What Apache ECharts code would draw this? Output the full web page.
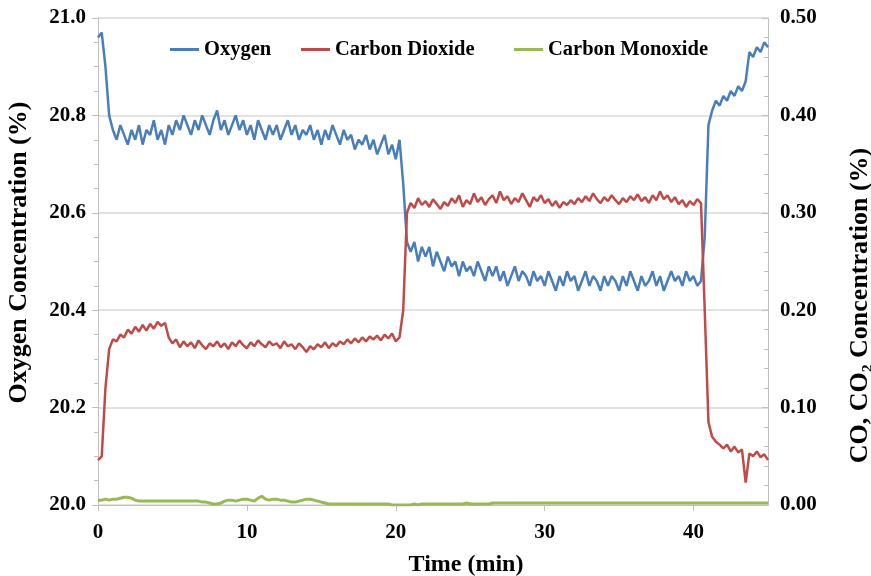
<!DOCTYPE html>
<html>
<head>
<meta charset="utf-8">
<script src="https://cdn.jsdelivr.net/npm/echarts@6/dist/echarts.min.js"></script>
<style>
  html, body { margin: 0; padding: 0; background: #fff; }
  #chart { width: 871px; height: 576px; }
</style>
</head>
<body>
<div id="chart"></div>
<script>
// sample times (min), one reading every 0.25 min
const times = [
  0, 0.25, 0.5, 0.75, 1, 1.25, 1.5, 1.75,
  2, 2.25, 2.5, 2.75, 3, 3.25, 3.5, 3.75,
  4, 4.25, 4.5, 4.75, 5, 5.25, 5.5, 5.75,
  6, 6.25, 6.5, 6.75, 7, 7.25, 7.5, 7.75,
  8, 8.25, 8.5, 8.75, 9, 9.25, 9.5, 9.75,
  10, 10.25, 10.5, 10.75, 11, 11.25, 11.5, 11.75,
  12, 12.25, 12.5, 12.75, 13, 13.25, 13.5, 13.75,
  14, 14.25, 14.5, 14.75, 15, 15.25, 15.5, 15.75,
  16, 16.25, 16.5, 16.75, 17, 17.25, 17.5, 17.75,
  18, 18.25, 18.5, 18.75, 19, 19.25, 19.5, 19.75,
  20, 20.25, 20.5, 20.75, 21, 21.25, 21.5, 21.75,
  22, 22.25, 22.5, 22.75, 23, 23.25, 23.5, 23.75,
  24, 24.25, 24.5, 24.75, 25, 25.25, 25.5, 25.75,
  26, 26.25, 26.5, 26.75, 27, 27.25, 27.5, 27.75,
  28, 28.25, 28.5, 28.75, 29, 29.25, 29.5, 29.75,
  30, 30.25, 30.5, 30.75, 31, 31.25, 31.5, 31.75,
  32, 32.25, 32.5, 32.75, 33, 33.25, 33.5, 33.75,
  34, 34.25, 34.5, 34.75, 35, 35.25, 35.5, 35.75,
  36, 36.25, 36.5, 36.75, 37, 37.25, 37.5, 37.75,
  38, 38.25, 38.5, 38.75, 39, 39.25, 39.5, 39.75,
  40, 40.25, 40.5, 40.75, 41, 41.25, 41.5, 41.75,
  42, 42.25, 42.5, 42.75, 43, 43.25, 43.5, 43.75,
  44, 44.25, 44.5, 44.75, 45
];

// oxygen, left axis (%)
const oxygen = [
  20.96, 20.97, 20.90, 20.80, 20.77, 20.75, 20.78, 20.76,
  20.74, 20.77, 20.75, 20.78, 20.74, 20.77, 20.76, 20.79,
  20.75, 20.77, 20.74, 20.78, 20.76, 20.79, 20.77, 20.80,
  20.78, 20.76, 20.79, 20.77, 20.80, 20.78, 20.76, 20.79,
  20.81, 20.77, 20.79, 20.76, 20.78, 20.80, 20.77, 20.79,
  20.76, 20.78, 20.75, 20.79, 20.77, 20.75, 20.78, 20.76,
  20.78, 20.75, 20.77, 20.79, 20.76, 20.78, 20.75, 20.77,
  20.76, 20.78, 20.75, 20.77, 20.74, 20.77, 20.75, 20.78,
  20.76, 20.74, 20.77, 20.75, 20.76, 20.73, 20.75, 20.74,
  20.76, 20.73, 20.75, 20.72, 20.74, 20.76, 20.72, 20.74,
  20.71, 20.75, 20.66, 20.54, 20.52, 20.54, 20.50, 20.53,
  20.51, 20.53, 20.49, 20.52, 20.50, 20.48, 20.51, 20.49,
  20.50, 20.47, 20.50, 20.48, 20.49, 20.47, 20.50, 20.48,
  20.46, 20.49, 20.47, 20.49, 20.46, 20.48, 20.45, 20.47,
  20.49, 20.46, 20.48, 20.47, 20.45, 20.48, 20.46, 20.47,
  20.45, 20.48, 20.46, 20.44, 20.47, 20.45, 20.48, 20.46,
  20.47, 20.44, 20.46, 20.48, 20.45, 20.47, 20.46, 20.44,
  20.47, 20.45, 20.47, 20.46, 20.44, 20.47, 20.45, 20.48,
  20.46, 20.44, 20.47, 20.45, 20.46, 20.48, 20.45, 20.47,
  20.44, 20.46, 20.48, 20.46, 20.47, 20.45, 20.48, 20.46,
  20.47, 20.45, 20.46, 20.55, 20.78, 20.81, 20.83, 20.82,
  20.84, 20.83, 20.85, 20.84, 20.86, 20.85, 20.87, 20.93,
  20.92, 20.94, 20.93, 20.95, 20.94
];

// carbon dioxide, right axis (%)
const carbonDioxide = [
  0.046, 0.050, 0.120, 0.160, 0.170, 0.168, 0.175, 0.172,
  0.180, 0.176, 0.183, 0.178, 0.185, 0.179, 0.186, 0.181,
  0.188, 0.184, 0.187, 0.172, 0.166, 0.170, 0.162, 0.168,
  0.163, 0.167, 0.161, 0.169, 0.164, 0.160, 0.166, 0.163,
  0.168, 0.162, 0.166, 0.160, 0.167, 0.163, 0.169, 0.164,
  0.161, 0.167, 0.163, 0.169, 0.165, 0.162, 0.168, 0.164,
  0.166, 0.161, 0.168, 0.163, 0.165, 0.160, 0.166, 0.162,
  0.157, 0.163, 0.160, 0.165, 0.162, 0.167, 0.161, 0.166,
  0.163, 0.168, 0.165, 0.170, 0.166, 0.171, 0.167, 0.172,
  0.168, 0.173, 0.170, 0.174, 0.169, 0.175, 0.171, 0.176,
  0.168, 0.172, 0.200, 0.300, 0.310, 0.305, 0.315, 0.308,
  0.312, 0.306, 0.314, 0.309, 0.304, 0.311, 0.307, 0.315,
  0.310, 0.318, 0.306, 0.313, 0.309, 0.320, 0.311, 0.316,
  0.308, 0.314, 0.318, 0.310, 0.322, 0.313, 0.317, 0.309,
  0.315, 0.311, 0.320, 0.313, 0.306, 0.316, 0.312, 0.318,
  0.310, 0.314, 0.307, 0.312, 0.305, 0.311, 0.308, 0.313,
  0.309, 0.315, 0.311, 0.317, 0.312, 0.320, 0.314, 0.310,
  0.316, 0.312, 0.318, 0.313, 0.309, 0.315, 0.311, 0.317,
  0.313, 0.319, 0.312, 0.316, 0.310, 0.318, 0.313, 0.322,
  0.314, 0.318, 0.311, 0.316, 0.309, 0.313, 0.306, 0.312,
  0.308, 0.314, 0.310, 0.200, 0.085, 0.070, 0.065, 0.062,
  0.058, 0.062, 0.055, 0.060, 0.054, 0.057, 0.023, 0.053,
  0.050, 0.055, 0.049, 0.052, 0.046
];

// carbon monoxide, right axis (%)
const carbonMonoxide = [
  0.005, 0.005, 0.006, 0.005, 0.006, 0.006, 0.007, 0.008,
  0.008, 0.007, 0.005, 0.004, 0.004, 0.004, 0.004, 0.004,
  0.004, 0.004, 0.004, 0.004, 0.004, 0.004, 0.004, 0.004,
  0.004, 0.004, 0.004, 0.004, 0.003, 0.003, 0.002, 0.001,
  0.001, 0.002, 0.004, 0.005, 0.005, 0.004, 0.005, 0.006,
  0.006, 0.005, 0.004, 0.007, 0.009, 0.006, 0.005, 0.006,
  0.006, 0.005, 0.005, 0.004, 0.003, 0.003, 0.004, 0.005,
  0.006, 0.006, 0.005, 0.004, 0.003, 0.002, 0.001, 0.001,
  0.001, 0.001, 0.001, 0.001, 0.001, 0.001, 0.001, 0.001,
  0.001, 0.001, 0.001, 0.001, 0.001, 0.001, 0.001, 0.000,
  0.000, 0.000, 0.000, 0.000, 0.000, 0.001, 0.000, 0.001,
  0.001, 0.001, 0.001, 0.001, 0.001, 0.001, 0.001, 0.001,
  0.001, 0.001, 0.001, 0.002, 0.001, 0.001, 0.001, 0.001,
  0.001, 0.001, 0.002, 0.002, 0.002, 0.002, 0.002, 0.002,
  0.002, 0.002, 0.002, 0.002, 0.002, 0.002, 0.002, 0.002,
  0.002, 0.002, 0.002, 0.002, 0.002, 0.002, 0.002, 0.002,
  0.002, 0.002, 0.002, 0.002, 0.002, 0.002, 0.002, 0.002,
  0.002, 0.002, 0.002, 0.002, 0.002, 0.002, 0.002, 0.002,
  0.002, 0.002, 0.002, 0.002, 0.002, 0.002, 0.002, 0.002,
  0.002, 0.002, 0.002, 0.002, 0.002, 0.002, 0.002, 0.002,
  0.002, 0.002, 0.002, 0.002, 0.002, 0.002, 0.002, 0.002,
  0.002, 0.002, 0.002, 0.002, 0.002, 0.002, 0.002, 0.002,
  0.002, 0.002, 0.002, 0.002, 0.002
];

const seriesNames = ['Oxygen', 'Carbon Dioxide', 'Carbon Monoxide'];
const seriesColors = ['#4a7ebb', '#be4b48', '#98b954'];
const legendLefts = [165, 296, 509];

const font = 'Liberation Serif';
const axisGray = '#bfbfbf';

function pairs(values) {
  return times.map((t, i) => [t, values[i]]);
}

const chart = echarts.init(document.getElementById('chart'));

const option = {
  animation: false,
  grid: { left: 98, right: 103, top: 18, bottom: 71, outerBoundsMode: 'none' },
  // one legend per entry so each can sit where the original puts it
  legend: seriesNames.map((name, i) => ({
    data: [name],
    top: 34,
    left: legendLefts[i],
    icon: 'rect',
    itemWidth: 29,
    itemHeight: 3,
    itemGap: 4,
    textStyle: { fontFamily: font, fontWeight: 'bold', fontSize: 20.5, color: '#000' }
  })),
  xAxis: {
    type: 'value',
    min: 0,
    max: 45,
    interval: 10,
    name: 'Time (min)',
    nameLocation: 'middle',
    nameGap: 48,
    nameTextStyle: {
      fontFamily: font, fontWeight: 'bold', fontSize: 24, color: '#000',
      padding: [0, 0, 0, 66]
    },
    axisLine: { show: true, lineStyle: { color: axisGray } },
    axisTick: { show: true, length: 6, lineStyle: { color: axisGray } },
    axisLabel: {
      showMaxLabel: false,
      margin: 17,
      fontFamily: font, fontWeight: 'bold', fontSize: 21, color: '#000'
    },
    splitLine: { show: false }
  },
  yAxis: [
    {
      type: 'value',
      min: 20,
      max: 21,
      interval: 0.2,
      name: 'Oxygen Concentration (%)',
      nameLocation: 'middle',
      nameRotate: 90,
      nameGap: 66,
      nameTextStyle: {
        fontFamily: font, fontWeight: 'bold', fontSize: 26, color: '#000',
        padding: [0, 0, 0, 18]
      },
      axisLine: { show: true, lineStyle: { color: axisGray } },
      axisTick: { show: true, length: 6, lineStyle: { color: axisGray } },
      minorTick: { show: true, splitNumber: 4, length: 4, lineStyle: { color: axisGray } },
      axisLabel: {
        margin: 12,
        formatter: v => v.toFixed(1),
        fontFamily: font, fontWeight: 'bold', fontSize: 21, color: '#000'
      },
      splitLine: { show: true, lineStyle: { color: '#d9d9d9', width: 1.5 } }
    },
    {
      type: 'value',
      min: 0,
      max: 0.5,
      interval: 0.1,
      position: 'right',
      name: 'CO, CO\u2082 Concentration (%)',
      nameLocation: 'middle',
      nameRotate: 90,
      nameGap: 79,
      nameTextStyle: {
        fontFamily: font, fontWeight: 'bold', fontSize: 26, color: '#000',
        padding: [0, 88, 0, 0]
      },
      axisLine: { show: true, lineStyle: { color: axisGray } },
      axisTick: { show: true, inside: true, length: 6, lineStyle: { color: axisGray } },
      minorTick: { show: true, splitNumber: 5, length: 4, lineStyle: { color: axisGray } },
      axisLabel: {
        margin: 12,
        formatter: v => v.toFixed(2),
        fontFamily: font, fontWeight: 'bold', fontSize: 21, color: '#000'
      },
      splitLine: { show: false }
    }
  ],
  series: [
    {
      name: seriesNames[0],
      type: 'line',
      yAxisIndex: 0,
      data: pairs(oxygen),
      showSymbol: false,
      color: seriesColors[0],
      lineStyle: { width: 2.5 }
    },
    {
      name: seriesNames[1],
      type: 'line',
      yAxisIndex: 1,
      data: pairs(carbonDioxide),
      showSymbol: false,
      color: seriesColors[1],
      lineStyle: { width: 2.5 }
    },
    {
      name: seriesNames[2],
      type: 'line',
      yAxisIndex: 1,
      data: pairs(carbonMonoxide),
      showSymbol: false,
      color: seriesColors[2],
      lineStyle: { width: 3 }
    }
  ]
};

chart.setOption(option);
</script>
</body>
</html>
